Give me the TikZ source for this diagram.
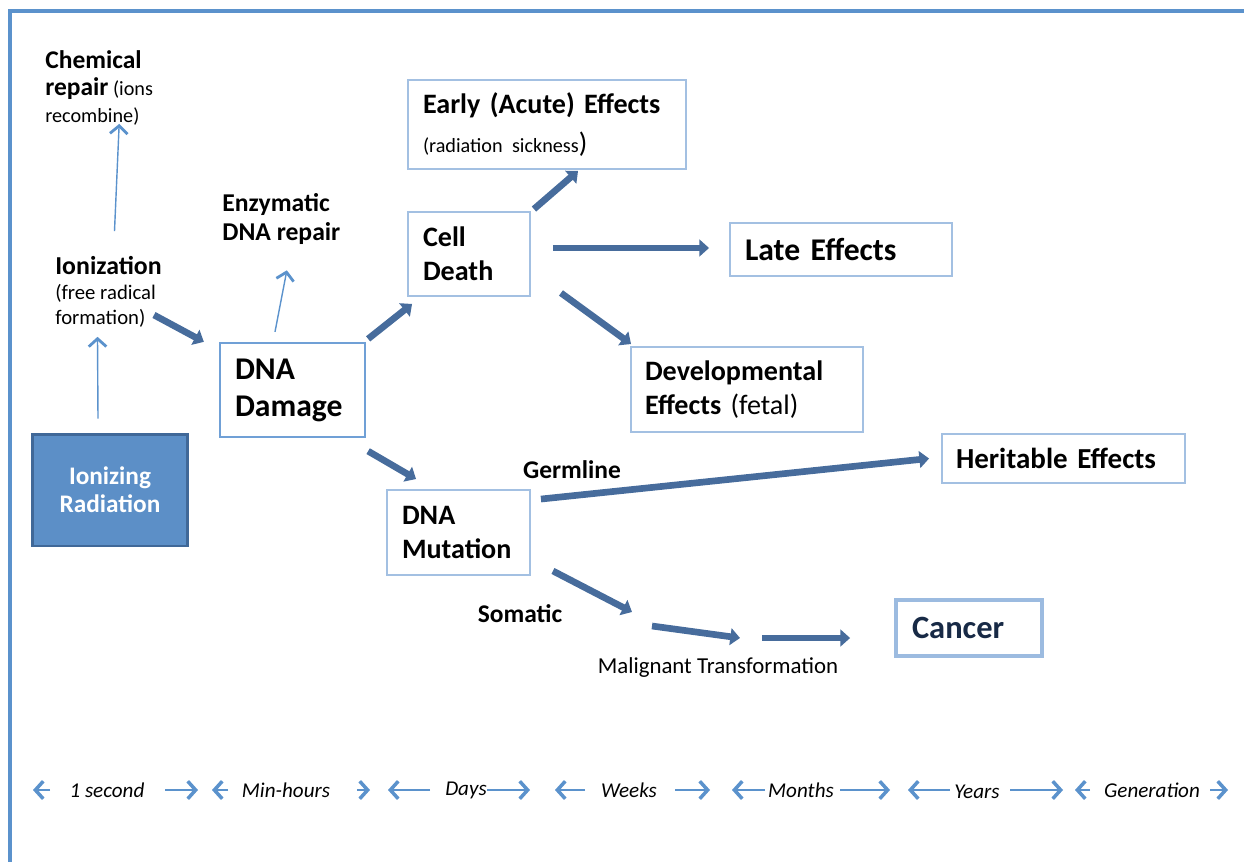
\documentclass[tikz,border=0pt]{standalone}
\usepackage{fontspec}
\setmainfont{Carlito}
\usepackage{xcolor}
\definecolor{frameblue}{RGB}{91,146,204}
\definecolor{radfill}{RGB}{92,143,199}
\definecolor{radline}{RGB}{64,104,152}
\definecolor{boxline}{RGB}{163,192,226}
\definecolor{damline}{RGB}{112,160,214}
\definecolor{fatblue}{RGB}{71,108,156}
\definecolor{cannavy}{RGB}{24,42,70}
\usetikzlibrary{arrows.meta,positioning,calc}

\begin{document}
\begin{tikzpicture}[
  x=0.02cm,y=-0.02cm,
  box/.style={draw=boxline,line width=1.1pt,fill=white,align=left,inner xsep=0.3cm,inner ysep=0pt},
  bigb/.style={font=\bfseries\fontsize{16}{19.3}\selectfont},
  hugeb/.style={font=\bfseries\fontsize{18}{21}\selectfont},
  lbl/.style={align=left,inner sep=0pt},
  midb/.style={font=\bfseries\fontsize{14.5}{16}\selectfont},
  fat/.style={fatblue,line width=3.8pt,-{Triangle[length=5.5pt,width=9.5pt]}},
  thin/.style={frameblue,line width=0.8pt,-{Straight Barb[length=4.5pt,width=10pt,line width=1.6pt]}},
  tl/.style={frameblue,line width=0.9pt,-{Straight Barb[length=4.5pt,width=10pt,line width=2pt]}},
  when/.style={font=\itshape\fontsize{12}{14}\selectfont}
]
\useasboundingbox (0,0) rectangle (1244,862);
\draw[frameblue,line width=2pt] (10,862) -- (10,11) -- (1244,11);

% boxes
\node[box,align=center,fill=radfill,draw=radline,line width=1.7pt,text=white,minimum width=3.12cm,minimum height=2.24cm,
  font=\bfseries\fontsize{14.4}{16}\selectfont] (rad) at (110,490) {Ionizing\\Radiation};
\node[box,hugeb,draw=damline,line width=1.3pt,text width=2.3cm,minimum height=1.88cm] (dam) at (292.5,390) {DNA\\Damage};
\node[box,bigb,text width=1.84cm,minimum height=1.68cm] (cell) at (469,254) {Cell\\Death};
\node[box,bigb,text width=4.96cm,minimum height=1.78cm] (early) at (547,124.5)
  {Early (Acute) Effects\\[3pt]{\mdseries\fontsize{11.5}{14}\selectfont (radiation sickness}{\mdseries )}};
\node[box,hugeb,text width=3.84cm,minimum height=1.06cm] (late) at (841,249.5) {Late Effects};
\node[box,bigb,inner xsep=0.28cm,text width=4.08cm,minimum height=1.7cm] (dev) at (747,389.5)
  {Developmental\\Effects {\mdseries (fetal)}};
\node[box,bigb,text width=2.26cm,minimum height=1.7cm] (mut) at (458.5,532.5) {DNA\\Mutation};
\node[box,inner xsep=0.28cm,text width=4.3cm,minimum height=0.98cm,
  font=\bfseries\fontsize{16.5}{19}\selectfont] (her) at (1063.5,458.5) {Heritable Effects};
\node[box,draw=boxline!90!frameblue,line width=2.2pt,inner xsep=0.32cm,text width=2.28cm,minimum height=1.12cm,
  text=cannavy,font=\bfseries\fontsize{18.5}{21}\selectfont] (can) at (969,628) {Cancer};

% loose labels
\node[lbl,anchor=west,font=\fontsize{11.5}{15.5}\selectfont] (chem) at (45,88)
  {{\bfseries\fontsize{14.5}{17.5}\selectfont Chemical}\\{\bfseries\fontsize{14.5}{17.5}\selectfont repair} (ions\\recombine)};
\node[lbl,anchor=west,font=\fontsize{11.8}{14.2}\selectfont] (ion) at (55,292)
  {{\bfseries\fontsize{14.7}{15.3}\selectfont Ionization}\\(free radical\\formation)};
\node[lbl,anchor=west,font=\bfseries\fontsize{14.6}{17}\selectfont] (enz) at (222,219) {Enzymatic\\DNA repair};
\node[midb] (germ) at (572,470) {Germline};
\node[midb] (som) at (520,614) {Somatic};
\node[font=\fontsize{13}{15}\selectfont] (mal) at (718,668) {Malignant Transformation};

% thin arrows
\draw[thin] ($(rad.north)+(-12,-14)$) -- ($(ion.south)+(-11,9)$);
\draw[thin] ($(ion.north)+(6,-25)$) -- ($(chem.south)+(20,-2)$);
\draw[thin] ($(dam.north)+(-17.5,-10)$) -- ($(enz.south)+(5.5,25)$);

% fat arrows
\draw[fat] ($(ion.east)+(-8,23)$) -- ($(dam.north west)+(-15,0)$);
\draw[fat] ($(dam.north east)+(2,-3)$) -- ($(cell.south west)+(5,7)$);
\draw[fat] ($(cell.north east)+(3,-2)$) -- ($(early.south)+(31,1)$);
\draw[fat] ($(cell.east)+(22,-6)$) -- ($(late.west)+(-20,-1.5)$);
\draw[fat] ($(cell.south east)+(30,-4)$) -- ($(dev.north west)+(1,-2)$);
\draw[fat] ($(dam.south east)+(2,13)$) -- ($(mut.north west)+(30,-10)$);
\draw[fat] ($(mut.north east)+(10,10)$) -- ($(her.west)+(-12,0)$);
\coordinate (s1) at (632,612);
\coordinate (s2) at (652,626);
\coordinate (s3) at (740,638);
\coordinate (s4) at (762,638);
\draw[fat] ($(mut.south east)+(22,-5)$) -- (s1);
\draw[fat] (s2) -- (s3);
\draw[fat] (s4) -- ($(can.west)+(-44,10)$);

% time scale
\node[when] (t1) at (107,790) {1 second};
\node[when] (t2) at (286,790) {Min-hours};
\node[when] (t3) at (466,790) {Days};
\node[when] (t4) at (629,790) {Weeks};
\node[when] (t5) at (801,790) {Months};
\node[when] (t6) at (977,792) {Years};
\node[when] (t7) at (1152,790) {Generation};
\foreach \a/\b in {50/33,228/212,430/388,585/555,765/732,950/908,1090/1075,
                   165/198,357/370,487/530,675/710,840/890,1010/1063,1210/1228}
  \draw[tl] (\a,790) -- (\b,790);
\end{tikzpicture}
\end{document}
